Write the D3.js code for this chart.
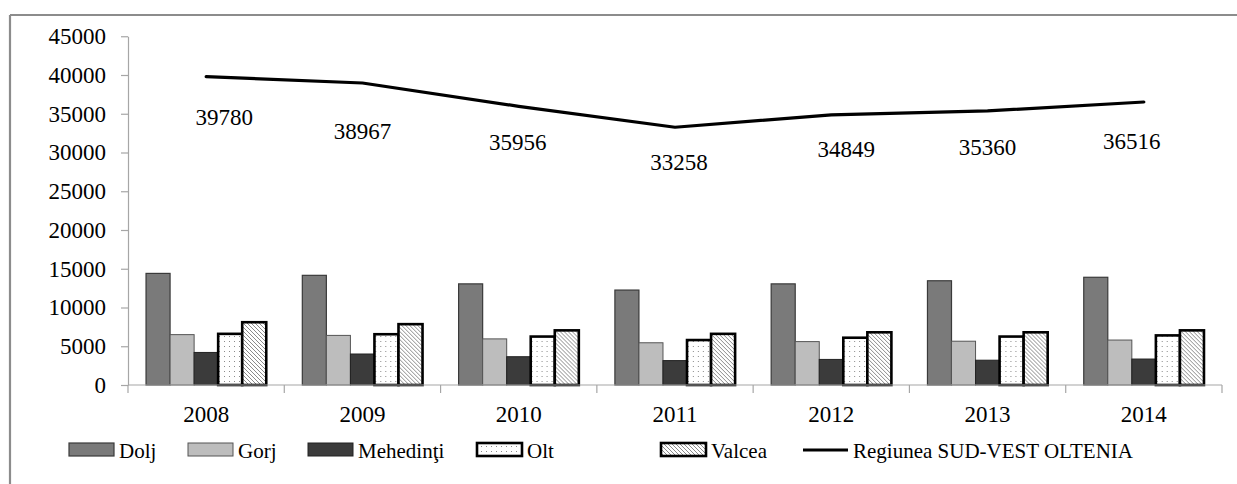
<!DOCTYPE html>
<html><head><meta charset="utf-8">
<script src="https://cdn.jsdelivr.net/npm/d3@7"></script>
<style>
html,body{margin:0;padding:0;background:#fff;}
svg{display:block;}
text{font-family:"Liberation Serif","Times New Roman",serif;fill:#000;}
</style></head>
<body>
<svg id="chart" width="1237" height="484"></svg>
<script>
// ---- data ----
const years = ["2008","2009","2010","2011","2012","2013","2014"];
const seriesNames = ["Dolj","Gorj","Mehedinţi","Olt","Valcea"];
const dolj      = [14400,14150,13050,12250,13050,13450,13900];
const gorj      = [6500,6400,5950,5450,5600,5650,5800];
const mehedinti = [4200,4000,3650,3150,3300,3200,3350];
const olt       = [6600,6550,6250,5800,6100,6250,6400];
const valcea    = [8100,7850,7050,6600,6800,6800,7050];
const regionName = "Regiunea SUD-VEST OLTENIA";
const region    = [39780,38967,35956,33258,34849,35360,36516];
const yTicks    = [0,5000,10000,15000,20000,25000,30000,35000,40000,45000];

// ---- layout (not data) ----
const labelNudge = [[18,48],[0,56],[-1,44],[4,43],[15,42],[0,44],[-12,47]];
const seriesValues = [dolj,gorj,mehedinti,olt,valcea];

const svg = d3.select("#chart");
const defs = svg.append("defs");
const pd = defs.append("pattern").attr("id","dots").attr("patternUnits","userSpaceOnUse")
  .attr("width",5).attr("height",5);
pd.append("rect").attr("width",5).attr("height",5).attr("fill","#fff");
pd.append("rect").attr("x",1).attr("y",1).attr("width",1).attr("height",1).attr("fill","#8a8a8a");
const ph = defs.append("pattern").attr("id","hatch").attr("patternUnits","userSpaceOnUse")
  .attr("width",4).attr("height",4);
ph.append("rect").attr("width",4).attr("height",4).attr("fill","#fff");
ph.append("path").attr("d","M-1,-1 L5,5 M-1,3 L1,5 M3,-1 L5,1").attr("stroke","#8a8a8a").attr("stroke-width",1);

const styles = [
  {fill:"#7a7a7a", stroke:"#3a3a3a", sw:1.2},
  {fill:"#bdbdbd", stroke:"#555", sw:1},
  {fill:"#3b3b3b", stroke:"#222", sw:1},
  {fill:"url(#dots)", stroke:"#000", sw:2.6},
  {fill:"url(#hatch)", stroke:"#000", sw:2.6}
];

svg.append("line").attr("x1",10).attr("y1",15).attr("x2",1237).attr("y2",15).attr("stroke","#8c8c8c").attr("stroke-width",2.2);
svg.append("line").attr("x1",10).attr("y1",15).attr("x2",10).attr("y2",484).attr("stroke","#8c8c8c").attr("stroke-width",2.2);

const pL = 128, pR = 1222, pT = 36.25, pB = 385;
const x0 = d3.scaleBand().domain(years).range([pL,pR]).padding(0);
const x1 = d3.scaleBand().domain(seriesNames).range([0,x0.bandwidth()]).paddingInner(0).paddingOuter(0.75);
const y = d3.scaleLinear().domain([0,45000]).range([pB,pT]);

const yAxis = svg.append("g").attr("transform",`translate(${pL},0)`)
  .call(d3.axisLeft(y).tickValues(yTicks).tickSize(7).tickPadding(15).tickFormat(d3.format("d")).tickSizeOuter(0));
yAxis.attr("font-family",null);
yAxis.select(".domain").attr("stroke","#a6a6a6").attr("stroke-width",1.2);
yAxis.selectAll(".tick line").attr("stroke","#a6a6a6").attr("stroke-width",1.2);
yAxis.selectAll(".tick text").attr("font-size",23).attr("fill","#000");

const groups = svg.append("g").selectAll("g").data(years).join("g")
  .attr("transform",d=>`translate(${x0(d)},0)`);
seriesNames.forEach((name,si)=>{
  groups.append("rect")
    .attr("x",x1(name))
    .attr("width",x1.bandwidth())
    .attr("y",(d,i)=>y(seriesValues[si][i]))
    .attr("height",(d,i)=>y(0)-y(seriesValues[si][i]))
    .attr("fill",styles[si].fill)
    .attr("stroke",styles[si].stroke)
    .attr("stroke-width",styles[si].sw);
});

const xAxisG = svg.append("g").attr("transform",`translate(0,${pB})`);
xAxisG.append("line").attr("x1",pL).attr("x2",pR).attr("y1",0).attr("y2",0).attr("stroke","#a6a6a6").attr("stroke-width",1.2);
const bounds = years.map(d=>x0(d)).concat([x0(years[years.length-1])+x0.bandwidth()]);
xAxisG.selectAll("line.tk").data(bounds).join("line").attr("class","tk")
  .attr("x1",d=>d).attr("x2",d=>d).attr("y1",0).attr("y2",8).attr("stroke","#a6a6a6").attr("stroke-width",1.2);
xAxisG.selectAll("text").data(years).join("text")
  .attr("x",d=>x0(d)+x0.bandwidth()/2).attr("y",37)
  .attr("text-anchor","middle").attr("font-size",23).text(d=>d);

const lineGen = d3.line().x((d,i)=>x0(years[i])+x0.bandwidth()/2).y(d=>y(d));
svg.append("path").datum(region).attr("d",lineGen).attr("fill","none")
  .attr("stroke","#000").attr("stroke-width",3.2).attr("stroke-linejoin","round").attr("stroke-linecap","round");
svg.append("g").selectAll("text").data(region).join("text")
  .attr("x",(d,i)=>x0(years[i])+x0.bandwidth()/2+labelNudge[i][0])
  .attr("y",(d,i)=>y(d)+labelNudge[i][1])
  .attr("text-anchor","middle").attr("font-size",23).text(d=>d);

const legendItems = [
  {name:seriesNames[0], x:69, type:"rect", s:styles[0]},
  {name:seriesNames[1], x:188, type:"rect", s:styles[1]},
  {name:seriesNames[2], x:308, type:"rect", s:styles[2]},
  {name:seriesNames[3], x:477, type:"rect", s:styles[3]},
  {name:seriesNames[4], x:661, type:"rect", s:styles[4]},
  {name:regionName, x:803, type:"line"}
];
const lg = svg.append("g");
legendItems.forEach(it=>{
  if(it.type==="rect"){
    lg.append("rect").attr("x",it.x).attr("y",443).attr("width",45).attr("height",13)
      .attr("fill",it.s.fill).attr("stroke",it.s.stroke).attr("stroke-width",it.s.sw);
  } else {
    lg.append("line").attr("x1",it.x).attr("x2",it.x+45).attr("y1",450).attr("y2",450)
      .attr("stroke","#000").attr("stroke-width",3.2);
  }
  lg.append("text").attr("x",it.x+50).attr("y",458).attr("font-size",21).text(it.name);
});
</script>
</body></html>
